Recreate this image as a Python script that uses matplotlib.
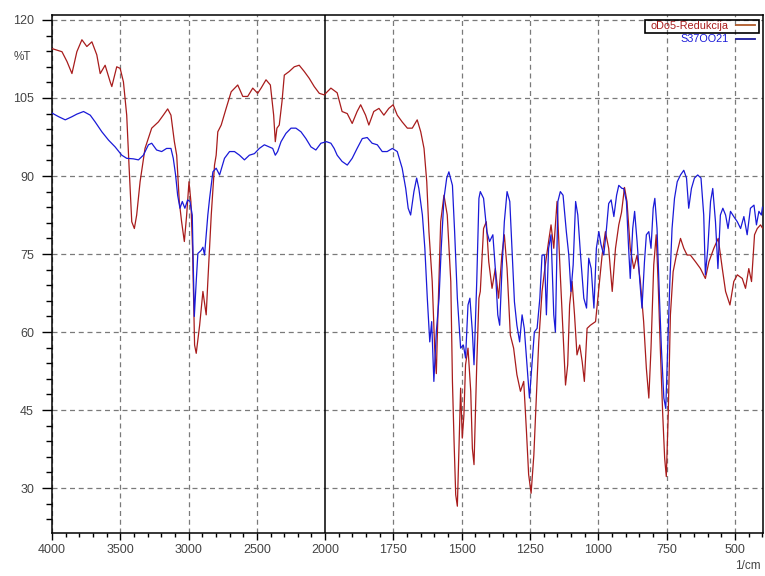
import numpy as np
import matplotlib
matplotlib.use("Agg")
import matplotlib.pyplot as plt
from matplotlib.patches import Rectangle
from matplotlib.ticker import FixedLocator

plt.rcParams['font.family'] = ['Liberation Sans', 'DejaVu Sans']

# spectrum 1: oDo5-Redukcija (wavenumber 1/cm, %T)
red_wn = [4000, 3927, 3890, 3854, 3818, 3781, 3745, 3708, 3672, 3647, 3611, 3574, 3562, 3526, 3501,
          3477, 3453, 3436, 3416, 3397, 3380, 3355, 3319, 3270, 3221, 3185, 3153, 3129, 3104, 3087,
          3068, 3051, 3031, 3014, 2997, 2983, 2971, 2956, 2944, 2919, 2895, 2871, 2859, 2834, 2810,
          2798, 2786, 2761, 2725, 2688, 2640, 2603, 2567, 2530, 2494, 2469, 2433, 2401, 2377, 2365,
          2353, 2336, 2316, 2299, 2263, 2226, 2190, 2153, 2117, 2080, 2043, 2007, 1979, 1956, 1938,
          1919, 1901, 1883, 1870, 1852, 1840, 1822, 1803, 1785, 1767, 1751, 1736, 1718, 1699, 1681,
          1663, 1650, 1638, 1628, 1620, 1608, 1599, 1593, 1589, 1577, 1565, 1553, 1540, 1534, 1528,
          1522, 1516, 1510, 1504, 1498, 1492, 1486, 1477, 1467, 1461, 1455, 1445, 1437, 1432, 1420,
          1410, 1401, 1389, 1377, 1365, 1353, 1344, 1334, 1322, 1310, 1298, 1285, 1273, 1263, 1255,
          1246, 1236, 1227, 1218, 1206, 1194, 1182, 1173, 1163, 1151, 1139, 1129, 1120, 1112, 1105,
          1096, 1087, 1078, 1068, 1059, 1051, 1041, 1029, 1010, 998, 986, 974, 962, 949, 937,
          925, 915, 904, 895, 883, 870, 858, 846, 834, 824, 815, 807, 797, 788, 781,
          773, 764, 757, 751, 744, 736, 726, 714, 699, 687, 675, 663, 644, 626, 608,
          595, 577, 561, 546, 534, 518, 504, 491, 473, 461, 449, 439, 428, 418, 406, 399]
red_t = [114.5, 113.9, 112.0, 109.7, 113.9, 116.2, 114.9, 115.8, 113.3, 109.7, 111.3, 108.1, 107.2, 111.0, 110.7,
         108.1, 101.7, 92.0, 81.2, 79.9, 82.5, 88.9, 95.3, 99.2, 100.4, 101.7, 102.9, 101.7, 96.6, 94.0,
         85.1, 81.2, 77.4, 82.5, 88.9, 85.1, 76.1, 57.5, 55.9, 61.3, 67.8, 63.3, 69.7, 82.5, 92.1,
         94.0, 98.5, 99.8, 103.0, 106.2, 107.5, 105.3, 105.3, 106.9, 105.9, 106.9, 108.5, 107.5, 101.7, 96.6,
         99.2, 99.8, 104.3, 109.4, 110.1, 111.0, 111.3, 110.1, 108.8, 107.2, 105.9, 105.6, 106.9, 106.0, 102.4,
         102.0, 100.1, 102.4, 103.7, 101.7, 99.8, 102.4, 103.0, 101.7, 103.0, 103.7, 101.7, 100.4, 99.2, 99.2,
         100.8, 98.5, 95.3, 88.9, 79.3, 69.7, 56.9, 52.0, 60.0, 81.2, 86.3, 82.5, 69.7, 50.5, 38.9,
         28.7, 26.5, 37.6, 49.2, 39.6, 44.0, 53.7, 56.9, 48.6, 37.6, 34.5, 53.7, 66.5, 67.8, 79.9,
         81.2, 73.5, 68.4, 72.2, 66.5, 74.8, 78.7, 72.2, 59.4, 56.9, 51.8, 48.6, 50.5, 40.9, 32.6,
         29.0, 36.3, 47.3, 58.1, 67.8, 72.9, 77.4, 80.6, 76.1, 85.1, 70.9, 60.0, 49.8, 53.7, 65.2,
         69.7, 63.3, 55.6, 57.5, 54.3, 50.5, 60.7, 61.3, 62.0, 68.4, 74.8, 79.3, 76.1, 67.8, 76.1,
         80.6, 83.0, 87.8, 85.1, 76.1, 72.2, 74.8, 69.7, 62.0, 53.0, 47.3, 56.9, 72.9, 78.7, 69.7,
         56.9, 44.0, 35.7, 32.2, 44.0, 63.3, 71.6, 74.8, 78.0, 76.1, 74.8, 74.8, 73.5, 72.2, 70.3,
         73.5, 76.1, 78.0, 72.2, 67.8, 65.2, 69.7, 71.0, 70.3, 68.4, 72.2, 69.7, 78.7, 79.9, 80.6, 80.0]

# spectrum 2: S37OO21
blue_wn = [4000, 3951, 3903, 3854, 3818, 3769, 3720, 3684, 3635, 3586, 3538, 3489, 3453, 3404, 3367,
           3331, 3294, 3270, 3234, 3197, 3161, 3129, 3112, 3095, 3080, 3063, 3046, 3027, 3007, 2990,
           2973, 2963, 2958, 2952, 2944, 2932, 2908, 2895, 2883, 2859, 2846, 2822, 2798, 2773, 2737,
           2700, 2664, 2627, 2591, 2555, 2518, 2482, 2445, 2409, 2384, 2365, 2348, 2323, 2287, 2250,
           2214, 2177, 2141, 2104, 2068, 2031, 1995, 1979, 1967, 1956, 1938, 1919, 1901, 1883, 1864,
           1846, 1828, 1809, 1791, 1773, 1754, 1736, 1718, 1705, 1696, 1687, 1675, 1665, 1657, 1644,
           1635, 1626, 1617, 1610, 1602, 1593, 1583, 1575, 1565, 1555, 1547, 1534, 1526, 1516, 1504,
           1494, 1486, 1477, 1470, 1461, 1455, 1445, 1437, 1432, 1420, 1408, 1398, 1386, 1377, 1368,
           1361, 1353, 1344, 1334, 1324, 1316, 1307, 1298, 1288, 1279, 1271, 1261, 1252, 1243, 1234,
           1224, 1214, 1206, 1197, 1190, 1182, 1173, 1163, 1157, 1148, 1139, 1129, 1117, 1108, 1100,
           1092, 1083, 1075, 1065, 1053, 1043, 1035, 1026, 1016, 1007, 998, 990, 980, 970, 962,
           953, 943, 933, 925, 913, 907, 897, 889, 883, 874, 867, 858, 848, 840, 831,
           824, 815, 807, 799, 793, 785, 776, 769, 760, 753, 746, 738, 730, 721, 711,
           699, 687, 677, 669, 659, 648, 636, 624, 614, 608, 599, 589, 581, 571, 562,
           553, 544, 534, 525, 516, 504, 491, 479, 467, 455, 443, 430, 421, 412, 403, 399]
blue_t = [102.1, 101.4, 100.8, 101.4, 101.9, 102.4, 101.7, 100.4, 98.5, 96.9, 95.6, 94.0, 93.4, 93.3, 93.1,
          94.0, 96.0, 96.3, 95.0, 94.7, 95.3, 95.3, 93.4, 90.2, 86.3, 83.8, 85.1, 83.8, 85.4, 85.1,
          82.5, 70.0, 63.0, 66.0, 69.7, 75.1, 75.7, 76.3, 74.8, 82.5, 85.7, 90.8, 91.5, 90.2, 93.4,
          94.7, 94.7, 94.0, 93.1, 94.0, 94.3, 95.3, 96.0, 95.6, 95.3, 94.0, 94.7, 96.6, 98.2, 99.2,
          99.2, 98.5, 97.2, 95.6, 95.0, 96.3, 96.6, 96.3, 95.3, 94.0, 92.8, 92.1, 93.4, 95.3, 97.2,
          97.4, 96.3, 96.0, 94.7, 94.7, 95.3, 94.7, 91.5, 87.6, 83.8, 82.5, 87.0, 89.6, 87.6, 82.5,
          76.1, 66.5, 58.1, 62.0, 50.5, 60.0, 66.5, 76.1, 85.7, 89.6, 90.8, 88.2, 79.3, 66.5, 56.9,
          57.5, 55.0, 65.2, 66.5, 60.0, 53.7, 69.7, 85.7, 87.0, 85.7, 79.3, 77.4, 78.7, 72.2, 63.3,
          61.3, 71.6, 81.2, 87.0, 85.1, 76.1, 65.8, 61.3, 58.1, 63.3, 60.7, 53.7, 47.3, 53.7, 60.0,
          60.7, 66.5, 74.8, 74.8, 63.3, 76.1, 78.7, 63.3, 60.0, 85.1, 87.0, 86.3, 79.3, 74.8, 67.8,
          72.9, 85.1, 82.5, 74.8, 66.5, 64.6, 74.2, 72.2, 64.6, 76.1, 79.3, 76.8, 74.8, 79.9, 84.7,
          85.4, 82.2, 86.3, 88.2, 87.6, 87.6, 85.1, 76.1, 70.3, 79.9, 83.2, 77.4, 69.7, 64.6, 73.5,
          78.7, 79.3, 76.1, 83.8, 85.7, 79.9, 66.5, 56.9, 47.3, 45.3, 56.9, 69.7, 79.9, 85.7, 88.9,
          90.2, 91.1, 89.6, 83.8, 87.6, 89.6, 90.2, 89.6, 82.5, 71.0, 76.1, 85.1, 87.6, 81.2, 72.2,
          82.5, 83.8, 82.5, 79.9, 83.2, 82.2, 81.2, 79.9, 82.2, 78.7, 83.8, 84.4, 80.6, 83.2, 82.5, 84.0]

labels = ["oDo5-Redukcija", "S37OO21"]
red_col = "#a81c1c"
blue_col = "#1a1ad8"


# IR style axis: below 2000 1/cm the scale is stretched 2x
def fwd(x):
    x = np.asarray(x, dtype=float)
    return np.where(x >= 2000, x, 2 * x - 2000)


def inv(t):
    t = np.asarray(t, dtype=float)
    return np.where(t >= 2000, t, (t + 2000) / 2)


fig = plt.figure(figsize=(7.65, 5.76), dpi=100)
ax = fig.add_axes([52 / 765, 1 - 533 / 576, (763 - 52) / 765, (533 - 15) / 576])

ax.plot(red_wn, red_t, color=red_col, lw=0.9, label=labels[0], zorder=3)
ax.plot(blue_wn, blue_t, color=blue_col, lw=0.9, label=labels[1], zorder=3)

ax.set_xscale('function', functions=(fwd, inv))
ax.set_xlim(4000, 397)
ax.set_ylim(21.35, 120.96)

xmaj = [4000, 3500, 3000, 2500, 2000, 1750, 1500, 1250, 1000, 750, 500]
xmin = list(range(4000, 2000, -100)) + list(range(2000, 399, -50))
ax.xaxis.set_major_locator(FixedLocator(xmaj))
ax.xaxis.set_minor_locator(FixedLocator(xmin))
ax.set_xticklabels([str(v) for v in xmaj])
ax.yaxis.set_major_locator(FixedLocator([30, 45, 60, 75, 90, 105, 120]))
ax.yaxis.set_minor_locator(FixedLocator(list(range(24, 121, 3))))

ax.tick_params(axis='x', which='major', length=5, width=1, labelsize=9, labelcolor='#444444', pad=3)
ax.tick_params(axis='x', which='minor', length=3, width=1)
ax.tick_params(axis='y', which='major', length=7, width=1, labelsize=9, labelcolor='#444444', pad=6)
ax.tick_params(axis='y', which='minor', length=4, width=1)

for v in xmaj:
    if v == 2000:
        ax.axvline(v, color='black', lw=1.1, zorder=2)
    else:
        ax.axvline(v, color='#7a7a7a', lw=0.9, ls=(0, (4, 3)), zorder=1)
for v in [30, 45, 60, 75, 90, 105, 120]:
    ax.axhline(v, color='#7a7a7a', lw=0.9, ls=(0, (4, 3)), zorder=1)

for s in ax.spines.values():
    s.set_linewidth(1.1)

fig.text(22 / 765, 1 - 57 / 576, "%T", fontsize=8.5, color='#444444', ha='center', va='center')
fig.text(748 / 765, 1 - 566 / 576, "1/cm", fontsize=8.5, color='#444444', ha='center', va='center')

leg = ax.legend(loc='upper right', bbox_to_anchor=(1.0, 1.004), frameon=False, fontsize=7.8,
                markerfirst=False, handlelength=1.8, handletextpad=0.7, labelspacing=0.35,
                borderpad=0.2, labelcolor=[red_col, blue_col])
leg.set_zorder(10)
leg.get_lines()[0].set_color('#b05a2a')
leg.get_lines()[1].set_color('#1a1a9a')
for ln in leg.get_lines():
    ln.set_linewidth(1.3)

# black box round the active spectrum in the legend
fig.canvas.draw()
r = fig.canvas.get_renderer()
bb_t = leg.get_texts()[0].get_window_extent(r)
bb_l = leg.get_lines()[0].get_window_extent(r)
x0 = bb_t.x0 - 5
x1 = max(bb_l.x1, bb_t.x1) + 4
y0 = bb_t.y0 - 2
y1 = bb_t.y1 + 1
fig.patches.append(Rectangle((x0, y0), x1 - x0, y1 - y0, fill=False, edgecolor='black', lw=1.2,
                             transform=None, figure=fig, zorder=5))

fig.savefig("out.png", dpi=100)
